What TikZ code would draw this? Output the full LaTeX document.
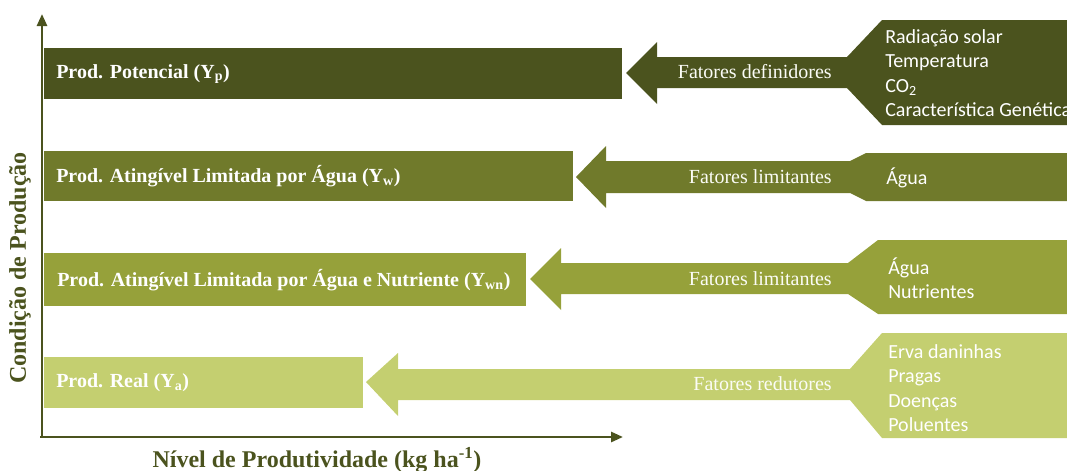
\documentclass[tikz,border=0pt]{standalone}
\usepackage{fontspec}
\setmainfont{Liberation Serif}
\newfontfamily\listfont{Carlito}
\usetikzlibrary{arrows.meta}
\definecolor{nivelA}{RGB}{75,83,30}
\definecolor{nivelB}{RGB}{112,122,43}
\definecolor{nivelC}{RGB}{150,161,58}
\definecolor{nivelD}{RGB}{196,207,112}
\begin{document}
\begin{tikzpicture}[x=0.75pt,y=-0.75pt,
    axis/.style={draw=nivelA,line width=2pt,-{Triangle[length=9pt,width=7.5pt]}},
    bartext/.style={anchor=west,text=white,inner sep=0pt,font=\fontsize{15}{18}\selectfont\bfseries},
    arrowtext/.style={anchor=east,text=white!94!nivelD,inner sep=0pt,font=\fontsize{15}{18}\selectfont},
    listtext/.style={anchor=west,align=left,text=white,inner sep=0pt,font=\listfont\fontsize{15}{18.4}\selectfont},
    axislabel/.style={text=nivelA,inner sep=0pt,font=\fontsize{18}{21}\selectfont\bfseries}]
    % pixel grid of the reference: 1067 x 471, y grows downwards
    \useasboundingbox (0,0) rectangle (1067,471);
    \clip (0,0) rectangle (1067,471);

    % Eixos
    \coordinate (O) at (42,437);
    \coordinate (ytop) at (42,14);
    \coordinate (xend) at (623,437);
    \draw[axis] (O) -- (ytop);
    \draw[axis] (40,437) -- (xend);
    \node[axislabel,rotate=90] (ylab) at (20,268) {Condição de Produção};
    \node[axislabel] (xlab) at (317,460) {Nível de Produtividade (kg ha\textsuperscript{-1})};

    % Nível 1: potencial
    \fill[nivelA] (44,48) rectangle (622,99);
    \fill[nivelA] (626,73) -- (657,42) -- (657,57) -- (847,57) -- (882,20) -- (1067,20)
        -- (1067,125) -- (882,125) -- (847,88) -- (657,88) -- (657,104) -- cycle;
    \node[bartext] (yp) at (56,74) {Prod. Potencial (Y\textsubscript{p})};
    \node[arrowtext] (fdef) at (832,72) {Fatores definidores};
    \node[listtext] (ldef) at (885,73) {Radiação solar\\Temperatura\\CO\textsubscript{2}\\Característica Genética};

    % Nível 2: limitado por água
    \fill[nivelB] (44,151) rectangle (573,201);
    \fill[nivelB] (576,177) -- (606,146) -- (606,161) -- (850,161) -- (866,153) -- (1067,153)
        -- (1067,201) -- (866,201) -- (850,193) -- (606,193) -- (606,208) -- cycle;
    \node[bartext] (yw) at (56,176) {Prod. Atingível Limitada por Água (Y\textsubscript{w})};
    \node[arrowtext] (flim1) at (832,177) {Fatores limitantes};
    \node[listtext] (llim1) at (886,178) {Água};

    % Nível 3: limitado por água e nutriente
    \fill[nivelC] (44,253) rectangle (526,306);
    \fill[nivelC] (530,279) -- (561,248) -- (561,263) -- (848,263) -- (878,240) -- (1067,240)
        -- (1067,314) -- (878,314) -- (848,294) -- (561,294) -- (561,310) -- cycle;
    \node[bartext] (ywn) at (57,280) {Prod. Atingível Limitada por Água e Nutriente (Y\textsubscript{wn})};
    \node[arrowtext] (flim2) at (832,279) {Fatores limitantes};
    \node[listtext] (llim2) at (888,278) {Água\\Nutrientes};

    % Nível 4: real
    \fill[nivelD] (44,357) rectangle (363,408);
    \fill[nivelD] (366,382) -- (398,353) -- (398,369) -- (850,369) -- (882,333) -- (1067,333)
        -- (1067,438) -- (882,438) -- (850,400) -- (398,400) -- (398,416) -- cycle;
    \node[bartext] (ya) at (56,383) {Prod. Real (Y\textsubscript{a})};
    \node[arrowtext] (fred) at (832,384) {Fatores redutores};
    \node[listtext] (lred) at (888,388) {Erva daninhas\\Pragas\\Doenças\\Poluentes};
\end{tikzpicture}
\end{document}
